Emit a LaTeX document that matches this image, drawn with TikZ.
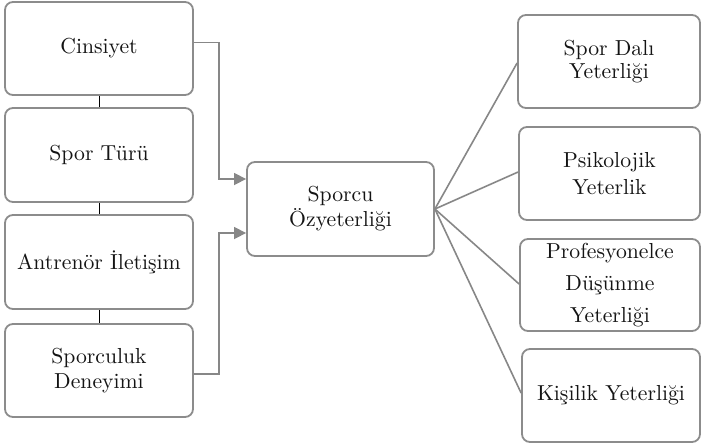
\documentclass[tikz,border=0pt]{standalone}
\usepackage{fontspec}
\newfontfamily\lmx{lmroman10-regular.otf}
\usetikzlibrary{arrows.meta}
\definecolor{boxgray}{RGB}{140,140,140}
\definecolor{linegray}{RGB}{135,135,135}
\definecolor{txt}{RGB}{20,20,20}
\tikzset{
  box/.style={draw=boxgray, line width=1.8pt, rounded corners=8pt, inner sep=0pt,
    align=center, text=txt, font=\lmx\fontsize{21.7}{25}\selectfont},
  leftbox/.style={box, minimum width=188pt, minimum height=93pt},
  rightbox/.style={box, minimum height=93pt},
  arr/.style={draw=linegray, line width=1.5pt, -{Triangle[length=12pt,width=12pt]}},
  fan/.style={draw=linegray, line width=1.6pt},
  tie/.style={draw=black, line width=1pt}
}
\begin{document}
\begin{tikzpicture}[x=1pt,y=-1pt]
\useasboundingbox (0,0) rectangle (701,445);
\node[leftbox] (cin) at (99,48.5) {Cinsiyet};
\node[leftbox, minimum height=94pt] (tur) at (99,155) {Spor Türü};
\node[leftbox, minimum height=94pt] (ant) at (99,262) {Antrenör İletişim};
\node[leftbox] (den) at (99,370.5) {Sporculuk\\Deneyimi};
\node[box, minimum width=187pt, minimum height=94pt] (cen) at (340.5,209) {Sporcu\\Özyeterliği};
\node[rightbox, minimum width=182pt, font=\lmx\fontsize{21.7}{23}\selectfont] (dal) at (609,61.5) {Spor Dalı\\Yeterliği};
\node[rightbox, minimum width=181pt, font=\lmx\fontsize{21.7}{27}\selectfont] (psi) at (609.5,173.5) {Psikolojik\\Yeterlik};
\node[rightbox, minimum width=180pt, minimum height=92pt, font=\lmx\fontsize{21.7}{32}\selectfont] (pro) at (610,285) {Profesyonelce\\Düşünme\\Yeterliği};
\node[rightbox, minimum width=178pt] (kis) at (611,395.5) {Kişilik Yeterliği};
\draw[tie, xshift=-3pt] (cin.south) -- (tur.north);
\draw[tie, xshift=-3pt] (tur.south) -- (ant.north);
\draw[tie, xshift=-3pt] (ant.south) -- (den.north);
\draw[arr] ([yshift=6pt]cin.east) -- ++(25,0) |- ([yshift=30pt]cen.west);
\draw[arr] ([yshift=-3.5pt]den.east) -- ++(25,0) |- ([yshift=-24pt]cen.west);
\draw[fan] (cen.east) -- ([yshift=-1.5pt]dal.west);
\draw[fan] (cen.east) -- ([yshift=1.5pt]psi.west);
\draw[fan] (cen.east) -- ([yshift=1pt]pro.west);
\draw[fan] (cen.east) -- ([yshift=2.5pt]kis.west);
\end{tikzpicture}
\end{document}
